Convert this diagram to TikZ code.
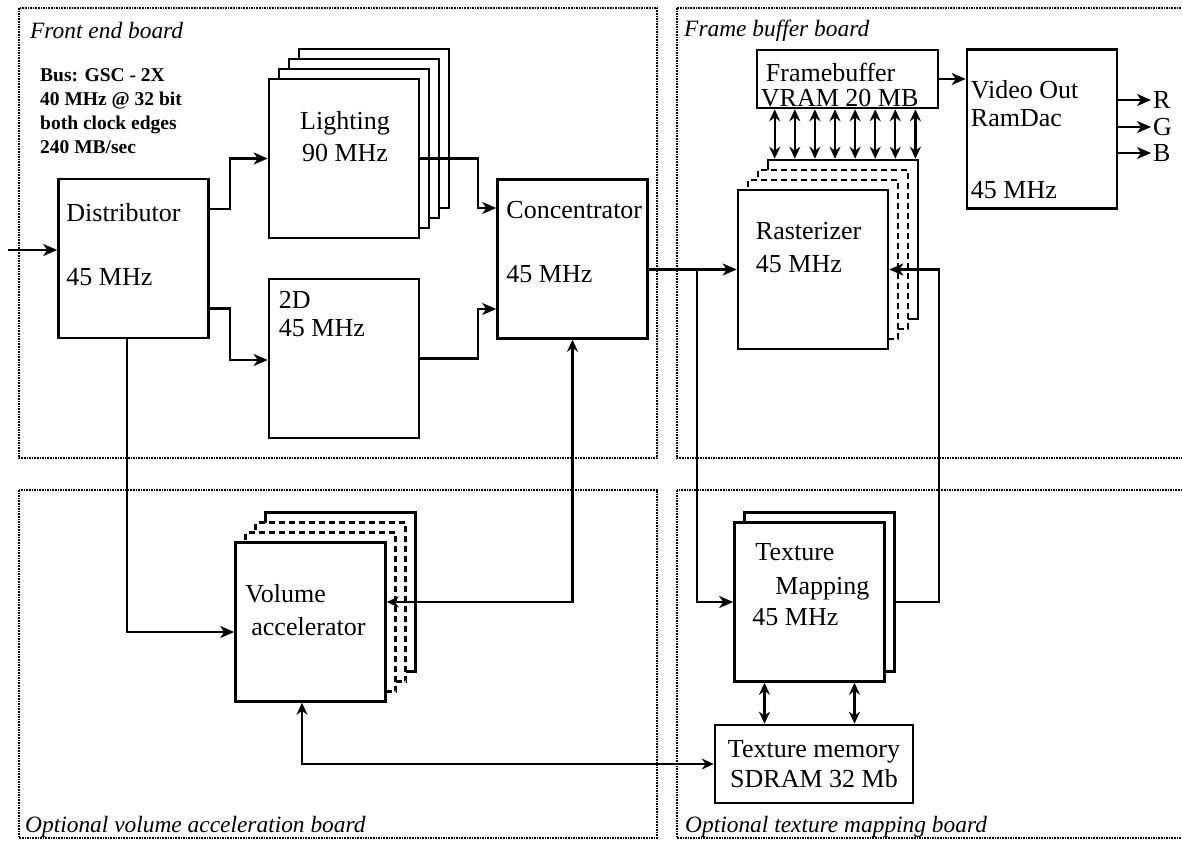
\documentclass[tikz,border=0pt]{standalone}
\usepackage{fontspec}
\setmainfont{Liberation Serif}
\usetikzlibrary{arrows.meta,positioning,calc}

\begin{document}
\begin{tikzpicture}[x=1pt, y=-1pt,
  every node/.style={font=\fontsize{26}{30}\selectfont, inner sep=0pt},
  blk/.style={draw, fill=white, line width=2.6pt, minimum width=150pt, minimum height=159pt},
  ghost/.style={blk, dash pattern=on 6pt off 4pt},
  txt/.style={anchor=north west, align=left},
  board/.style={densely dotted, line width=1.6pt},
  brd/.style={anchor=west, font=\fontsize{23.4}{28}\selectfont\itshape},
  arr/.style={-{Stealth[length=14pt, width=12pt, inset=4pt]}, line width=2.2pt},
  dbl/.style={{Stealth[length=12pt, width=11pt, inset=4pt]}-{Stealth[length=12pt, width=11pt, inset=4pt]}, line width=2.2pt}]
\useasboundingbox (0,0) rectangle (1182,842);

% boards
\draw[board] (19,8) rectangle (657,458);
\draw[board] (677,8) rectangle (1190,458);
\draw[board] (19,490) rectangle (657,838);
\draw[board] (677,490) rectangle (1190,838);
\node[brd] (felbl) at (30,31) {Front end board};
\node[brd] (fblbl) at (684,31) {Frame buffer board};
\node[brd] (vablbl) at (25,827) {Optional volume acceleration board};
\node[brd] (tmlbl) at (685,827) {Optional texture mapping board};

\node[txt, font=\fontsize{19.5}{24}\selectfont\bfseries] (bus) at (40,68) {Bus: GSC - 2X\\40 MHz @ 32 bit\\both clock edges\\240 MB/sec};

% front end
\node[blk] (dist) at (133.5,258.5) {};
\node[txt] (distlbl) at ($(dist.north west)+(9,26)$) {Distributor\\[34pt]45 MHz};
\foreach \k in {3,2,1} \node[blk] (lit\k) at (344+10*\k,158.5-10*\k) {};
\node[blk] (lit) at (344,158.5) {};
\node[txt, anchor=north, align=center] (litlbl) at ($(lit.north)+(1,34)$) {Lighting\\[2pt]90 MHz};
\node[blk] (twod) at (344,358.5) {};
\node[txt] (twodlbl) at ($(twod.north west)+(11,13)$) {2D\\[-2pt]45 MHz};
\node[blk] (conc) at (572.5,259) {};
\node[txt] (conclbl) at ($(conc.north west)+(10,23)$) {Concentrator\\[34pt]45 MHz};

% frame buffer
\node[blk] (rast3) at (843,239.5) {};
\foreach \k in {2,1} \node[ghost] (rast\k) at (813+10*\k,269.5-10*\k) {};
\node[blk] (rast) at (813,269.5) {};
\node[txt] (rastlbl) at ($(rast.north west)+(19,33)$) {Rasterizer\\[3pt]45 MHz};
\node[blk, minimum width=181pt, minimum height=58pt] (fb) at (847.5,79) {};
\node[txt] (fblbl2) at ($(fb.north west)+(5,14)$) {\hspace*{5pt}Framebuffer\\[-5pt]VRAM 20 MB};
\node[blk] (vout) at (1042,129) {};
\node[txt] (voutlbl) at ($(vout.north west)+(5,32)$) {Video Out\\[-2pt]RamDac\\[42pt]45 MHz};

% volume
\node[blk] (vol3) at (340.5,592) {};
\foreach \k in {2,1} \node[ghost] (vol\k) at (310.5+10*\k,622-10*\k) {};
\node[blk] (vol) at (310.5,622) {};
\node[txt] (vollbl) at ($(vol.north west)+(11,43)$) {Volume\\[3pt]\hspace*{6pt}accelerator};

% texture
\node[blk] (texmap1) at (819.5,592) {};
\node[blk] (texmap) at (809.5,602) {};
\node[txt] (texmaplbl) at ($(texmap.north west)+(19,22)$) {\hspace*{3pt}Texture\\[4pt]\hspace*{23pt}Mapping\\[1pt]45 MHz};
\node[blk, minimum width=198pt, minimum height=78pt, align=center] (texmem) at (814,764) {Texture memory\\SDRAM 32 Mb};

% connectors
\coordinate (in) at (8,250);
\draw[arr] (in) -- (in -| dist.west);
\draw[arr] ($(dist.east)+(0,-49.5)$) -- ++(20,0) |- (lit.west);
\draw[arr] ($(dist.east)+(0,50)$) -- ++(20,0) |- ($(twod.west)+(0,1.5)$);
\draw[arr] (lit.east) -- ++(58,0) |- ($(conc.west)+(0,-51)$);
\draw[arr] (twod.east) -- ++(58,0) |- ($(conc.west)+(0,50)$);
\draw[arr] (conc.east |- rast.west) -- (rast.west);
\coordinate (tap) at (697,0);
\draw[arr] (tap |- rast.west) |- (texmap.west);
\draw[arr] (texmap1.east |- texmap.east) -- ++(43,0) |- (rast.east);
\draw[dbl] (conc.south) |- ($(vol.east)+(0,-20)$);
\draw[arr] ($(dist.south)+(-6.5,0)$) |- ($(vol.west)+(0,10)$);
\draw[dbl] ($(vol.south)+(-8.5,0)$) |- (texmem.west);
\foreach \dx in {-45,45} \draw[dbl] ($(texmap.south)+(\dx,0)$) coordinate (tm) -- (tm |- texmem.north);
\foreach \i in {0,...,7} \draw[dbl] ($(fb.south west)+(19+20.1*\i,0)$) coordinate (fbp) -- (fbp |- rast3.north);
\draw[arr] (fb.east) -- (fb.east -| vout.west);
\foreach \c/\yy in {R/100,G/127,B/153} {
  \node[anchor=west] (out\c) at (1153,\yy) {\c};
  \draw[arr, shorten >=2pt] (vout.east |- out\c) -- (out\c);
}
\end{tikzpicture}
\end{document}
